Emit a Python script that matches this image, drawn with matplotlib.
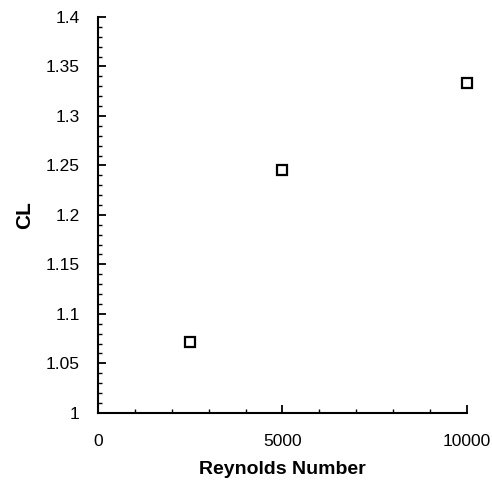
import numpy as np
import matplotlib.pyplot as plt
from matplotlib.ticker import MultipleLocator

reynolds = [2500, 5000, 10000]
cl = [1.072, 1.245, 1.333]

xticks = [0, 5000, 10000]
yticks = [1.0, 1.05, 1.1, 1.15, 1.2, 1.25, 1.3, 1.35, 1.4]
ytick_labels = ['1', '1.05', '1.1', '1.15', '1.2', '1.25', '1.3', '1.35', '1.4']

plt.rcParams['font.family'] = ['Liberation Sans', 'DejaVu Sans']

fig = plt.figure(figsize=(4.92, 4.84), dpi=100)
ax = fig.add_axes([0.199, 0.147, 0.75, 0.818])

ax.plot(reynolds, cl, linestyle='none', marker='s', markersize=6.8,
        markerfacecolor='white', markeredgecolor='black', markeredgewidth=1.6,
        clip_on=False, zorder=5)

ax.set_xlim(0, 10000)
ax.set_ylim(1.0, 1.4)
ax.set_xticks(xticks)
ax.set_xticklabels([str(t) for t in xticks])
ax.set_yticks(yticks)
ax.set_yticklabels(ytick_labels)
ax.xaxis.set_minor_locator(MultipleLocator(1000))
ax.yaxis.set_minor_locator(MultipleLocator(0.01))

for side in ('top', 'right'):
    ax.spines[side].set_visible(False)
for side in ('left', 'bottom'):
    ax.spines[side].set_linewidth(1.5)

ax.tick_params(which='major', direction='in', length=6, width=1.3,
               labelsize=12.5, pad=13)
ax.tick_params(which='minor', direction='in', length=3, width=1.0)
ax.tick_params(axis='x', pad=15)

ax.set_xlabel('Reynolds Number', fontsize=14, fontweight='bold', labelpad=9)
ax.set_ylabel('CL', fontsize=15, fontweight='bold', labelpad=8)

fig.savefig('out.png', dpi=100)
